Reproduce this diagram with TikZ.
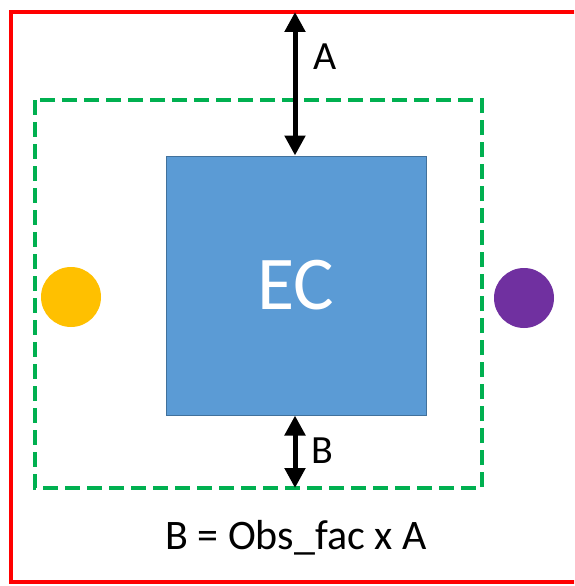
\documentclass[tikz,border=0pt]{standalone}
\usepackage{fontspec}
\setmainfont{Carlito}
\usetikzlibrary{arrows.meta}
\definecolor{redline}{HTML}{FF0000}
\definecolor{greenline}{HTML}{00B050}
\definecolor{ecfill}{HTML}{5B9BD5}
\definecolor{ecdraw}{HTML}{41719C}
\definecolor{yel}{HTML}{FFC000}
\definecolor{pur}{HTML}{7030A0}
\tikzset{
  dimarrow/.style={line width=5pt, {Triangle[width=20pt,length=20pt]}-{Triangle[width=20pt,length=20pt]}},
  lbl/.style={font=\fontsize{40}{42}\selectfont, inner sep=0pt},
  eqlbl/.style={font=\fontsize{42}{44}\selectfont, inner sep=0pt},
  dot/.style={circle, minimum size=60pt, inner sep=0pt}
}
\begin{document}
\begin{tikzpicture}[x=1pt,y=-1pt]
\useasboundingbox (0,0) rectangle (574,586);
\clip (0,0) rectangle (574,586);
\fill[white] (0,0) rectangle (574,586);
\draw[redline, line width=4pt] (11,12) rectangle (600,582);
\draw[greenline, line width=4.5pt, dash pattern=on 15pt off 7pt] (35,100) rectangle (482,488);
\node[draw=ecdraw, fill=ecfill, line width=1pt, minimum width=260pt, minimum height=259pt, inner sep=0pt,
      font=\fontsize{76}{78}\selectfont, text=white] (ec) at (296,285.5) {EC};
\coordinate (topedge) at (295,12);
\coordinate (greenbot) at (295,488);
\draw[dimarrow] (topedge) -- (ec.north -| topedge);
\draw[dimarrow] (ec.south -| greenbot) -- (greenbot);
\node[lbl] (la) at (325,57) {A};
\node[lbl] (lb) at (322,451) {B};
\node[dot, fill=yel] (y) at (71,297) {};
\node[dot, fill=pur] (p) at (524,298) {};
\node[eqlbl] (eq) at (296,538) {B = Obs\_fac x A};
\end{tikzpicture}
\end{document}
